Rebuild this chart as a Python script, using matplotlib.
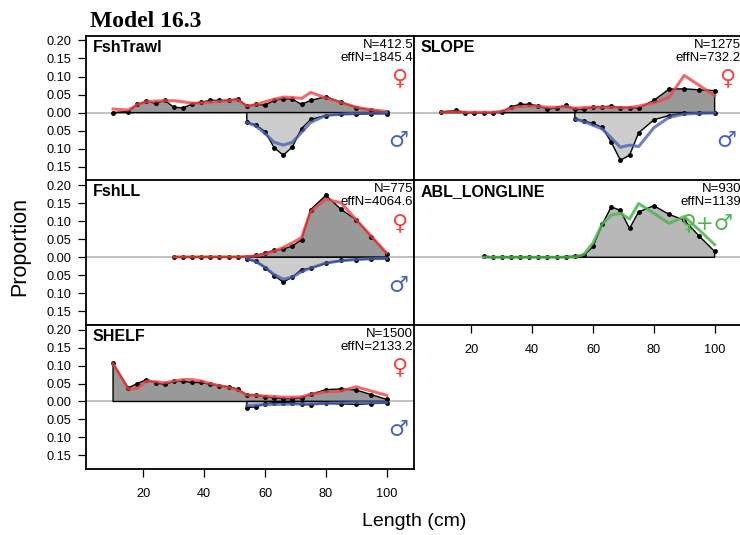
import matplotlib
matplotlib.use("Agg")
import matplotlib.pyplot as plt

plt.rcParams['font.family'] = ['Liberation Sans', 'DejaVu Sans']

# Length bins (cm)
len_bins = [10, 15, 18, 21, 24, 27, 30, 33, 36, 39, 42, 45, 48, 51, 54, 57,
            60, 63, 66, 69, 72, 75, 80, 85, 90, 95, 100]
male_bins = [54, 57, 60, 63, 66, 69, 72, 75, 80, 85, 90, 95, 100]
ll_bins = [30, 33, 36, 39, 42, 45, 48, 51, 54, 57, 60, 63, 66, 69, 72, 75,
           80, 85, 90, 95, 100]
abl_bins = [24, 27, 30, 33, 36, 39, 42, 45, 48, 51, 54, 57, 60, 63, 66, 69,
            72, 75, 80, 85, 90, 95, 100]

# FshTrawl
trawl_f_obs = [0.000, 0.003, 0.023, 0.031, 0.026, 0.034, 0.015, 0.013, 0.024,
               0.029, 0.034, 0.034, 0.034, 0.038, 0.018, 0.023, 0.021, 0.034,
               0.039, 0.037, 0.023, 0.034, 0.044, 0.029, 0.014, 0.007, 0.001]
trawl_f_exp = [0.010, 0.007, 0.022, 0.030, 0.032, 0.033, 0.033, 0.030, 0.026,
               0.027, 0.029, 0.031, 0.033, 0.036, 0.018, 0.022, 0.030, 0.037,
               0.043, 0.042, 0.039, 0.056, 0.041, 0.028, 0.015, 0.008, 0.003]
trawl_m_obs = [0.027, 0.034, 0.053, 0.097, 0.118, 0.095, 0.044, 0.019, 0.008,
               0.005, 0.005, 0.003, 0.003]
trawl_m_exp = [0.027, 0.037, 0.058, 0.082, 0.090, 0.082, 0.055, 0.027, 0.008,
               0.004, 0.002, 0.002, 0.001]

# SLOPE survey
slope_f_obs = [0.002, 0.006, 0.000, 0.000, 0.000, 0.000, 0.002, 0.016, 0.023,
               0.023, 0.019, 0.010, 0.013, 0.020, 0.009, 0.009, 0.016, 0.016,
               0.018, 0.014, 0.014, 0.013, 0.034, 0.065, 0.066, 0.063, 0.061]
slope_f_exp = [0.001, 0.002, 0.001, 0.001, 0.001, 0.001, 0.004, 0.012, 0.017,
               0.018, 0.017, 0.015, 0.015, 0.017, 0.012, 0.014, 0.015, 0.015,
               0.014, 0.014, 0.014, 0.018, 0.027, 0.042, 0.103, 0.075, 0.047]
slope_m_obs = [0.017, 0.023, 0.030, 0.041, 0.082, 0.132, 0.118, 0.056, 0.020,
               0.008, 0.002, 0.001, 0.001]
slope_m_exp = [0.018, 0.025, 0.035, 0.045, 0.070, 0.096, 0.090, 0.094, 0.042,
               0.013, 0.004, 0.002, 0.001]

# FshLL
ll_f_obs = [0.001, 0.001, 0.001, 0.001, 0.001, 0.001, 0.001, 0.001, 0.002,
            0.005, 0.012, 0.019, 0.023, 0.031, 0.049, 0.132, 0.172, 0.133,
            0.104, 0.057, 0.010]
ll_f_exp = [0.001, 0.001, 0.001, 0.001, 0.001, 0.001, 0.001, 0.001, 0.002,
            0.004, 0.009, 0.017, 0.027, 0.040, 0.055, 0.127, 0.161, 0.151,
            0.104, 0.058, 0.012]
ll_m_obs = [0.005, 0.011, 0.029, 0.051, 0.069, 0.055, 0.034, 0.031, 0.017,
            0.009, 0.007, 0.005, 0.004]
ll_m_exp = [0.004, 0.012, 0.028, 0.048, 0.061, 0.055, 0.040, 0.030, 0.016,
            0.010, 0.006, 0.004, 0.003]

# ABL_LONGLINE (sexes combined)
abl_obs = [0.003, 0.001, 0.001, 0.001, 0.001, 0.001, 0.001, 0.001, 0.001,
           0.002, 0.003, 0.005, 0.030, 0.091, 0.140, 0.130, 0.080, 0.126,
           0.143, 0.119, 0.103, 0.058, 0.016]
abl_exp = [0.000, 0.000, 0.000, 0.000, 0.000, 0.000, 0.000, 0.000, 0.000,
           0.000, 0.001, 0.008, 0.040, 0.092, 0.117, 0.122, 0.106, 0.149,
           0.122, 0.094, 0.113, 0.075, 0.035]

# SHELF survey
shelf_f_obs = [0.106, 0.038, 0.050, 0.061, 0.052, 0.048, 0.056, 0.056, 0.053,
               0.053, 0.048, 0.044, 0.041, 0.035, 0.018, 0.018, 0.013, 0.010,
               0.008, 0.008, 0.010, 0.020, 0.033, 0.035, 0.032, 0.019, 0.006]
shelf_f_exp = [0.105, 0.035, 0.036, 0.057, 0.055, 0.052, 0.057, 0.061, 0.061,
               0.057, 0.050, 0.044, 0.039, 0.032, 0.018, 0.017, 0.015, 0.014,
               0.012, 0.012, 0.013, 0.020, 0.027, 0.029, 0.041, 0.029, 0.017]
shelf_m_obs = [0.017, 0.015, 0.006, 0.004, 0.003, 0.004, 0.008, 0.009, 0.005,
               0.007, 0.008, 0.006, 0.004]
shelf_m_exp = [0.012, 0.010, 0.009, 0.008, 0.008, 0.007, 0.007, 0.007, 0.005,
               0.004, 0.003, 0.003, 0.003]

panel_names = ["FshTrawl", "SLOPE", "FshLL", "ABL_LONGLINE", "SHELF"]
panel_n = ["412.5", "1275", "775", "930", "1500"]
panel_effn = ["1845.4", "732.2", "4064.6", "1139", "2133.2"]

y_ticks = [-0.15, -0.10, -0.05, 0.0, 0.05, 0.10, 0.15, 0.20]
x_ticks = [20, 40, 60, 80, 100]

FEMALE_FILL = '#999999'
MALE_FILL = '#cccccc'
BOTH_FILL = '#b8b8b8'
RED = (0.94, 0.27, 0.28)
BLUE = (0.29, 0.39, 0.71)
GREEN = (0.32, 0.71, 0.32)

W, H = 740, 535
fig = plt.figure(figsize=(W / 100, H / 100), dpi=100)


def add_px_axes(x0, y0, x1, y1):
    return fig.add_axes([x0 / W, 1 - y1 / H, (x1 - x0) / W, (y1 - y0) / H])


def sex_polygon(ax, bins, vals, sign, face):
    xs = [bins[0]] + list(bins) + [bins[-1]]
    ys = [0.0] + [sign * v for v in vals] + [0.0]
    ax.fill(xs, ys, facecolor=face, edgecolor='black', lw=1.0, zorder=2)
    ax.plot(bins, [sign * v for v in vals], 'o', color='black', ms=2.5,
            zorder=3)


def draw_panel(ax, idx, f_bins, f_obs, f_exp, m_obs=None, m_exp=None,
               combined=False):
    ax.axhline(0, color='#bdbdbd', lw=1.3, zorder=1)
    if combined:
        sex_polygon(ax, f_bins, f_obs, 1, BOTH_FILL)
        ax.plot(f_bins, f_exp, color=GREEN, lw=2.2, alpha=0.85, zorder=4)
        ax.text(97.3, 0.094, '\u2640+\u2642', color=GREEN, fontsize=15.5,
                ha='center', va='center', family=['DejaVu Sans'], zorder=5)
    else:
        sex_polygon(ax, f_bins, f_obs, 1, FEMALE_FILL)
        sex_polygon(ax, male_bins, m_obs, -1, MALE_FILL)
        ax.plot(f_bins, f_exp, color=RED, lw=2.2, alpha=0.8, zorder=4)
        ax.plot(male_bins, [-v for v in m_exp], color=BLUE, lw=2.2,
                alpha=0.8, zorder=4)
        ax.text(104, 0.094, '\u2640', color=RED, fontsize=16, ha='center',
                va='center', family=['DejaVu Sans'], zorder=5)
        ax.text(103.8, -0.079, '\u2642', color=BLUE, fontsize=16,
                ha='center', va='center', family=['DejaVu Sans'], zorder=5)

    ax.annotate(panel_names[idx], xy=(0, 1), xycoords='axes fraction',
                xytext=(7, -4), textcoords='offset pixels', ha='left',
                va='top', fontsize=11.5, fontweight='bold')
    ax.annotate('N=' + panel_n[idx], xy=(1, 1), xycoords='axes fraction',
                xytext=(-1, -3), textcoords='offset pixels', ha='right',
                va='top', fontsize=9.5)
    ax.annotate('effN=' + panel_effn[idx], xy=(1, 1),
                xycoords='axes fraction', xytext=(-1, -16),
                textcoords='offset pixels', ha='right', va='top',
                fontsize=9.5)

    ax.set_xlim(1.1, 109)
    ax.set_ylim(-0.188, 0.213)
    for s in ax.spines.values():
        s.set_linewidth(1.3)
        s.set_color('black')
    ax.set_xticks([])
    ax.set_yticks([])


left_x = (86, 414)
right_x = (414, 742)
rows = [(35.7, 180.5), (180.5, 325), (325, 469)]

ax1 = add_px_axes(left_x[0], rows[0][0], left_x[1], rows[0][1])
draw_panel(ax1, 0, len_bins, trawl_f_obs, trawl_f_exp, trawl_m_obs, trawl_m_exp)

ax2 = add_px_axes(right_x[0], rows[0][0], right_x[1], rows[0][1])
draw_panel(ax2, 1, len_bins, slope_f_obs, slope_f_exp, slope_m_obs, slope_m_exp)

ax3 = add_px_axes(left_x[0], rows[1][0], left_x[1], rows[1][1])
draw_panel(ax3, 2, ll_bins, ll_f_obs, ll_f_exp, ll_m_obs, ll_m_exp)

ax4 = add_px_axes(right_x[0], rows[1][0], right_x[1], rows[1][1])
draw_panel(ax4, 3, abl_bins, abl_obs, abl_exp, combined=True)

ax5 = add_px_axes(left_x[0], rows[2][0], left_x[1], rows[2][1])
draw_panel(ax5, 4, len_bins, shelf_f_obs, shelf_f_exp, shelf_m_obs, shelf_m_exp)

# y axes on the left column
for ax in (ax1, ax3, ax5):
    ax.set_yticks(y_ticks)
    ax.set_yticklabels([f"{abs(t):.2f}" for t in y_ticks])
    ax.tick_params(axis='y', length=5.8, width=0.9, pad=5.0, labelsize=9.2)

# x axes under the bottom panel of each column
for ax in (ax5, ax4):
    ax.set_xticks(x_ticks)
    ax.set_xticklabels([str(t) for t in x_ticks])
    ax.tick_params(axis='x', length=5.4, width=0.9, pad=8.0, labelsize=9.2)

fig.text(90 / W, 1 - 27 / H, 'Model 16.3', fontsize=17, fontweight='bold',
         family=['Liberation Serif'], ha='left', va='baseline')
fig.text(19.7 / W, 1 - 246.5 / H, 'Proportion', rotation=90, fontsize=15.5,
         ha='center', va='center')
fig.text(414 / W, 1 - 521.5 / H, 'Length (cm)', fontsize=14, ha='center',
         va='center')

fig.savefig('out.png', dpi=100)
